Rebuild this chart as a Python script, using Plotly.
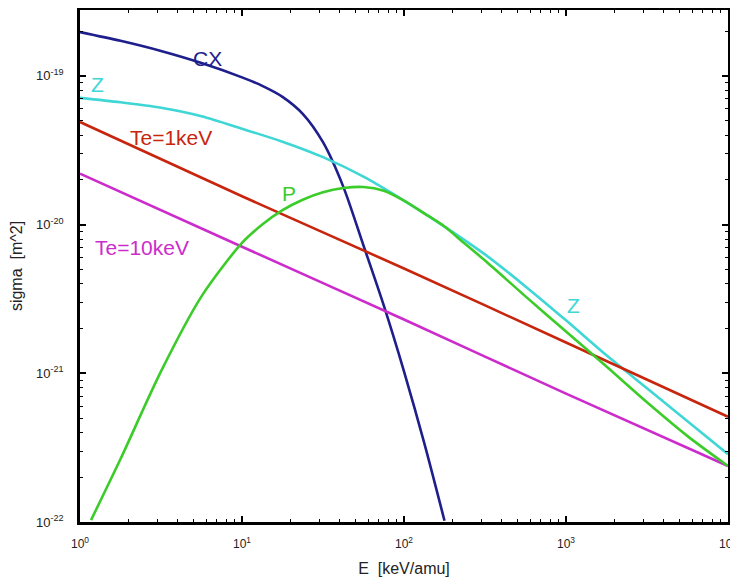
import plotly.graph_objects as go

# ---- data (E in keV/amu, sigma in m^2) ----
cx_E = [1, 1.778, 3.162, 5.623, 10, 13.34, 17.78, 23.71, 31.62, 42.17, 56.23, 74.99, 100,
        133.4, 177.8]
cx_sigma = [1.97e-19, 1.72e-19, 1.47e-19, 1.22e-19, 9.77e-20, 8.57e-20, 7.23e-20, 5.56e-20,
            3.58e-20, 1.80e-20, 7.23e-21, 2.86e-21, 1.03e-21, 3.39e-22, 1.02e-22]

z_E = [1, 1.778, 3.162, 5.623, 10, 17.78, 31.62, 56.23, 100, 177.8, 316.2, 562.3, 1000,
       1778, 3162, 5623, 10000]
z_sigma = [7.11e-20, 6.64e-20, 6.10e-20, 5.35e-20, 4.41e-20, 3.61e-20, 2.84e-20, 2.10e-20,
           1.45e-20, 9.70e-21, 6.30e-21, 3.84e-21, 2.27e-21, 1.32e-21, 7.93e-22, 4.76e-22, 2.86e-22]

p_E = [1.17, 1.778, 3.162, 5.623, 10, 13.34, 17.78, 23.71, 31.62, 42.17, 56.23, 74.99, 100,
       133.4, 177.8, 237.1, 316.2, 562.3, 1000, 1778, 3162, 5623, 10000]
p_sigma = [1.03e-22, 2.65e-22, 1.03e-21, 3.29e-21, 7.53e-21, 1.0e-20, 1.25e-20, 1.47e-20,
           1.65e-20, 1.76e-20, 1.79e-20, 1.69e-20, 1.45e-20, 1.19e-20, 9.70e-21, 7.45e-21,
           5.73e-21, 3.29e-21, 1.91e-21, 1.11e-21, 6.38e-22, 3.78e-22, 2.38e-22]

te1_E = [1, 10, 100, 1000, 10000]
te1_sigma = [4.9e-20, 1.55e-20, 5.07e-21, 1.61e-21, 5.1e-22]

te10_E = [1, 10, 100, 1000, 10000]
te10_sigma = [2.2e-20, 7.1e-21, 2.3e-21, 7.3e-22, 2.38e-22]

labels = ["CX", "Z", "Te=1keV", "P", "Te=10keV", "Z"]

x_tickvals = [1, 10, 100, 1000, 10000]
x_ticktext = ["10<sup>0</sup>", "10<sup>1</sup>", "10<sup>2</sup>", "10<sup>3</sup>", "10<sup>4</sup>"]
y_tickvals = [1e-22, 1e-21, 1e-20, 1e-19]
y_ticktext = ["10<sup>-22</sup>", "10<sup>-21</sup>", "10<sup>-20</sup>", "10<sup>-19</sup>"]

# ---- styling ----
C_CX = "#1e1e8c"
C_Z = "#3fd6d6"
C_RED = "#c8250e"
C_P = "#3ccc2a"
C_MAG = "#cc2ccc"
FONT = "Liberation Sans"

fig = go.Figure()
series = [
    (cx_E, cx_sigma, C_CX),
    (z_E, z_sigma, C_Z),
    (te1_E, te1_sigma, C_RED),
    (te10_E, te10_sigma, C_MAG),
    (p_E, p_sigma, C_P),
]
for xs, ys, col in series:
    fig.add_trace(go.Scatter(x=xs, y=ys, mode="lines",
                             line=dict(color=col, width=2.6, shape="spline", smoothing=0.8),
                             showlegend=False, hoverinfo="skip"))

# label annotations (positions in log10 data coordinates)
ann_pos = [(0.787, -18.886, C_CX), (0.108, -19.058, C_Z), (0.559, -19.411, C_RED),
           (1.290, -19.791, C_P), (0.383, -20.151, C_MAG), (3.049, -20.541, C_Z)]
for txt, (ax_, ay_, col) in zip(labels, ann_pos):
    fig.add_annotation(x=ax_, y=ay_, text=txt, showarrow=False,
                       font=dict(color=col, size=21, family=FONT))

axis_common = dict(
    type="log", showline=True, linecolor="black", linewidth=2.5, mirror="allticks",
    ticks="inside", ticklen=6, tickwidth=1.5, tickcolor="black",
    showgrid=False, zeroline=False, automargin=False,
    minor=dict(ticks="inside", ticklen=3, tickwidth=1.2, tickcolor="black",
               dtick="D1", showgrid=False),
)

fig.update_xaxes(range=[0, 4], tickmode="array", tickvals=x_tickvals, ticktext=x_ticktext,
                 ticklabelstandoff=9, tickfont=dict(size=12, color="#222", family=FONT),
                 title=dict(text="E&nbsp; [keV/amu]", standoff=13,
                            font=dict(size=16, color="#222", family=FONT)),
                 **axis_common)
fig.update_yaxes(range=[-22, -18.557], tickmode="array", tickvals=y_tickvals, ticktext=y_ticktext,
                 ticklabelstandoff=11, tickfont=dict(size=13, color="#222", family=FONT),
                 title=dict(text="sigma&nbsp; [m^2]", standoff=11,
                            font=dict(size=16, color="#222", family=FONT)),
                 **axis_common)

# the page body adds an 8px offset; margins compensate so the plot sits where the reference has it
fig.update_layout(width=738, height=578, margin=dict(l=72, r=18, t=2, b=64),
                  paper_bgcolor="white", plot_bgcolor="white",
                  font=dict(family=FONT))

fig.write_html("out.html")
